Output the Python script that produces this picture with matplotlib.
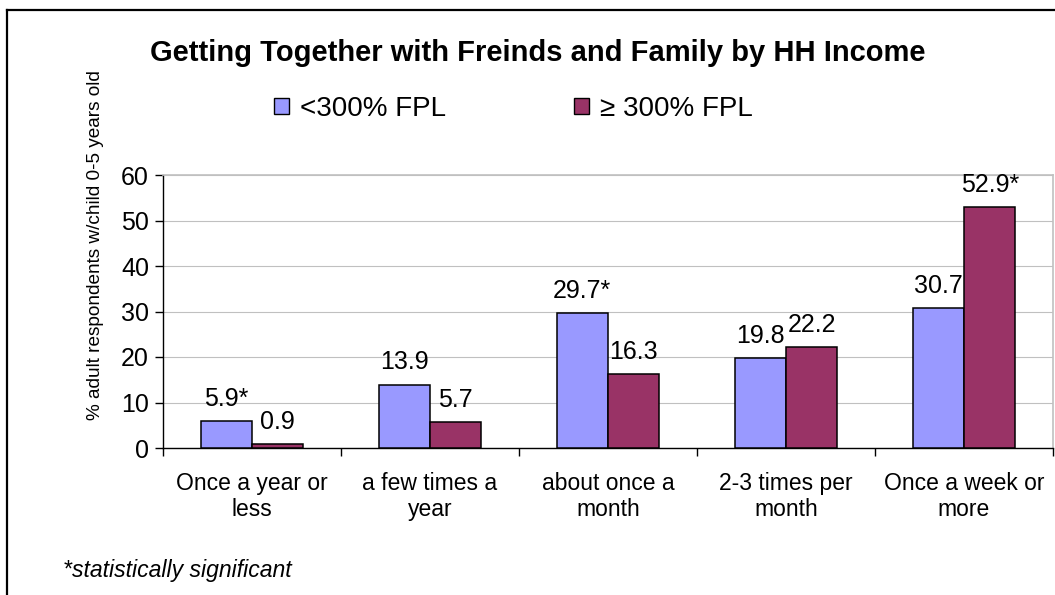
import matplotlib
matplotlib.use("Agg")
import matplotlib.pyplot as plt
import numpy as np
from matplotlib.patches import Patch
from matplotlib.lines import Line2D

plt.rcParams['font.family'] = ['Liberation Sans', 'DejaVu Sans']

categories = ["Once a year or\nless", "a few times a\nyear", "about once a\nmonth",
              "2-3 times per\nmonth", "Once a week or\nmore"]
series_names = ["<300% FPL", "\u2265 300% FPL"]
low_income = [5.9, 13.9, 29.7, 19.8, 30.7]
high_income = [0.9, 5.7, 16.3, 22.2, 52.9]
low_labels = ["5.9*", "13.9", "29.7*", "19.8", "30.7"]
high_labels = ["0.9", "5.7", "16.3", "22.2", "52.9*"]
yticks = [0, 10, 20, 30, 40, 50, 60]

colors = ["#9999FF", "#993366"]

fig = plt.figure(figsize=(10.55, 5.95), dpi=100)
ax = fig.add_axes([163/1055, 1-448/595, 890/1055, (448-175)/595])

x = np.arange(len(categories))
w = 0.289
b1 = ax.bar(x - w/2, low_income, w, color=colors[0], edgecolor="black", linewidth=1.1, zorder=3)
b2 = ax.bar(x + w/2, high_income, w, color=colors[1], edgecolor="black", linewidth=1.1, zorder=3)

for bars, labs in ((b1, low_labels), (b2, high_labels)):
    for r, lab in zip(bars, labs):
        ax.annotate(lab, (r.get_x() + r.get_width()/2, r.get_height()),
                    xytext=(0, 11), textcoords="offset points",
                    ha="center", va="baseline", fontsize=18)

ax.set_xlim(-0.5, len(categories) - 0.5)
ax.set_ylim(0, 60)
ax.set_yticks(yticks)
ax.set_yticklabels([str(t) for t in yticks], fontsize=18)
ax.yaxis.grid(True, color="#C0C0C0", linewidth=0.8, zorder=0)
ax.set_axisbelow(True)

ax.set_xticks(x)
ax.set_xticklabels(categories, fontsize=16.5, linespacing=1.2)
ax.tick_params(axis="x", length=0, pad=17)
ax.set_xticks(np.arange(-0.5, len(categories), 1.0), minor=True)
ax.tick_params(axis="x", which="minor", length=6, width=1, color="black")
ax.tick_params(axis="y", length=6, width=1, pad=4)

for s in ("top", "right"):
    ax.spines[s].set_color("#C0C0C0")
    ax.spines[s].set_linewidth(1.2)
for s in ("left", "bottom"):
    ax.spines[s].set_color("black")
    ax.spines[s].set_linewidth(1.0)

ax.set_ylabel("% adult respondents w/child 0-5 years old", fontsize=13.7)
ax.yaxis.set_label_coords(-0.066, 0.744)

fig.text(538/1055, 1-53/595, "Getting Together with Freinds and Family by HH Income",
         ha="center", va="center", fontsize=21, fontweight="bold")

handles = [Patch(facecolor=colors[0], edgecolor="black", linewidth=1.0),
           Patch(facecolor=colors[1], edgecolor="black", linewidth=1.0)]
fig.legend(handles, series_names, loc="center", bbox_to_anchor=(513/1055, 1-109/595),
           ncol=2, frameon=False, fontsize=20, handlelength=0.54, handleheight=0.54,
           handletextpad=0.4, columnspacing=4.6)

fig.text(63/1055, 1-571/595, "*statistically significant", ha="left", va="center",
         fontsize=16.6, style="italic")

# outer frame of the figure box
fig.add_artist(Line2D([7/1055, 7/1055], [0, 1-10/595], transform=fig.transFigure,
                      color="black", linewidth=1.6))
fig.add_artist(Line2D([7/1055, 1], [1-10/595, 1-10/595], transform=fig.transFigure,
                      color="black", linewidth=1.6))

fig.savefig("out.png", dpi=100)
